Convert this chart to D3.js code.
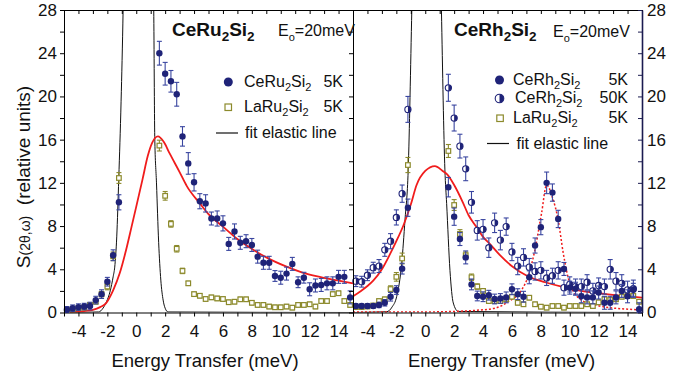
<!DOCTYPE html>
<html>
<head>
<script src="https://d3js.org/d3.v7.min.js"></script>
<style>
  body { margin: 0; background: #fff; }
  svg text { font-family: "Liberation Sans", Arial, sans-serif; fill: #111; }
</style>
</head>
<body>
<svg width="682" height="377"></svg>
<script>
// ---------- data ----------
const xTickLabels = [-4, -2, 0, 2, 4, 6, 8, 10, 12, 14];
const yTickLabels = [0, 4, 8, 12, 16, 20, 24, 28];

// energy grid of the measured points (meV)
const gridE = [-4.8, -4.4, -4.0, -3.6, -3.2, -2.8, -2.4, -2.0, -1.6, -1.2,
  1.6, 2.0, 2.4, 2.8, 3.2, 3.6, 4.0, 4.4, 4.8, 5.2, 5.6, 6.0, 6.4, 6.8, 7.2, 7.6,
  8.0, 8.4, 8.8, 9.2, 9.6, 10.0, 10.4, 10.8, 11.2, 11.6, 12.0, 12.4, 12.8, 13.2,
  13.6, 14.0, 14.4, 14.8];

// left panel: CeRu2Si2
const ceRuS = [0.25, 0.4, 0.5, 0.55, 0.6, 1.15, 1.7, 2.85, 5.3, 10.2,
  24.0, 22.1, 21.4, 20.2, 16.3, 13.8, 12.05, 10.3, 10.1, 8.7,
  8.7, 8.25, 6.35, 7.5, 6.45, 6.6, 6.25, 5.17, 4.6, 4.6,
  3.38, 3.22, 3.6, 4.5, 2.8, 3.22, 2.15, 2.5, 2.55, 2.7,
  2.7, 3.3, 3.3, 1.4];
const ceRuErr = [0.3, 0.3, 0.3, 0.3, 0.35, 0.35, 0.4, 0.4, 0.5, 0.7,
  1.1, 1.05, 1.0, 1.1, 0.9, 1.0, 0.8, 0.7, 0.8, 0.6,
  0.7, 0.7, 0.6, 0.7, 0.6, 0.6, 0.6, 0.6, 0.6, 0.6,
  0.5, 0.6, 0.6, 0.6, 0.5, 0.5, 0.6, 0.6, 0.6, 0.6,
  0.6, 0.6, 0.6, 0.6];
const laRuS = [0.23, 0.3, 0.4, 0.45, 0.7, 1.0, 1.7, 2.4, 5.2, 12.45,
  15.45, 10.8, 8.2, 5.9, 3.85, 2.7, 1.7, 1.55, 1.25, 1.4,
  1.3, 1.25, 0.95, 1.0, 1.22, 1.22, 0.9, 0.7, 0.7, 0.55,
  0.48, 0.48, 0.55, 0.45, 0.7, 0.7, 0.76, 0.55, 1.06, 1.06,
  1.7, 1.78, 1.06, 0.7];
const laRuErr = [0.15, 0.15, 0.15, 0.15, 0.2, 0.2, 0.25, 0.3, 0.4, 0.5,
  0.5, 0.4, 0.3, 0.3, 0.25, 0.2, 0.2, 0.2, 0.2, 0.2,
  0.2, 0.2, 0.2, 0.2, 0.2, 0.2, 0.2, 0.2, 0.2, 0.2,
  0.2, 0.2, 0.2, 0.2, 0.2, 0.2, 0.2, 0.2, 0.2, 0.2,
  0.2, 0.2, 0.2, 0.2];
const ruFitE = [-5, -4, -3.5, -3, -2.5, -2.1, -1.6, -1.14, -0.7, -0.33, 0, 0.43, 0.8, 1.1, 1.5,
  1.9, 2.32, 3.0, 3.5, 4.4, 5.0, 6.0, 7.0, 8.1, 9.0, 10.4, 11.5, 12.7, 14.0, 15.0];
const ruFitS = [0.02, 0.08, 0.15, 0.25, 0.5, 0.85, 2.05, 3.65, 5.8, 7.9, 9.8, 12.3, 14.5, 15.7, 16.3,
  15.8, 14.7, 13.0, 11.7, 10.1, 9.1, 7.95, 6.8, 5.8, 5.1, 4.24, 3.7, 3.3, 2.95, 2.7];
const ruElE = [-5, -2.6, -2.3, -2.06, -1.8, -1.6, -1.49, -1.35, -1.21, -1.05, -0.91, -0.85,
  1.15, 1.21, 1.28, 1.4, 1.55, 1.7, 1.86, 2.0, 2.2, 15];
const ruElS = [0, 0.05, 0.4, 1.0, 2.0, 3.3, 4.2, 7.0, 12.4, 19.5, 28, 33,
  33, 28, 16.3, 12.0, 6.5, 3.0, 1.15, 0.4, 0.05, 0];

// right panel: CeRh2Si2
const ceRh5S = [0.6, 0.6, 0.6, 0.6, 0.7, 0.9, 1.46, 2.08, 4.06, 9.7,
  11.6, 8.87, 6.8, 5.1, 2.6, 1.53, 1.46, 1.6, 1.25, 1.3,
  1.4, 2.15, 1.7, 1.46, 3.26, 6.2, 7.9, 12.0, 11.1, 8.66,
  4.03, 2.3, 2.2, 1.5, 1.4, 1.4, 1.85, 0.9, 0.9, 1.4,
  2.0, 1.5, 2.1, 0.3];
const ceRh5Err = [0.2, 0.2, 0.2, 0.2, 0.25, 0.3, 0.4, 0.4, 0.5, 0.8,
  0.9, 0.8, 0.6, 0.6, 0.5, 0.45, 0.45, 0.45, 0.45, 0.45,
  0.5, 0.5, 0.5, 0.5, 0.6, 0.7, 0.7, 1.0, 0.8, 0.8,
  0.6, 0.6, 0.6, 0.6, 0.6, 0.6, 0.6, 0.6, 0.6, 0.6,
  0.6, 0.6, 0.6, 0.6];
const ceRh50S = [2.9, 2.85, 3.45, 4.15, 4.3, 5.8, 6.6, 8.8, 11.0, 18.8,
  20.8, 18.0, 15.4, 13.3, 10.2, 7.6, 7.7, 6.0, 8.3, 6.7,
  7.95, 5.6, 4.3, 5.1, 4.2, 3.8, 3.9, 3.2, 3.4, 3.9,
  2.3, 2.6, 2.4, 2.4, 2.8, 2.0, 2.5, 2.4, 4.0, 2.9,
  2.7, 2.1, 2.2];
const ceRh50Err = [0.5, 0.5, 0.5, 0.5, 0.6, 0.6, 0.7, 0.7, 0.8, 1.2,
  1.25, 1.2, 1.1, 1.1, 1.0, 0.9, 0.9, 0.9, 0.9, 0.9,
  0.8, 0.8, 0.8, 0.8, 0.8, 0.8, 0.8, 0.7, 0.7, 0.8,
  0.7, 0.7, 0.7, 0.7, 0.7, 0.7, 0.7, 0.7, 0.9, 0.8,
  0.8, 0.8, 0.8];
const laRhS = [0.5, 0.5, 0.55, 0.65, 1.06, 1.22, 2.17, 3.3, 5.0, 13.65,
  14.95, 9.95, 7.27, 5.3, 3.26, 2.4, 2.0, 1.06, 1.06, 1.06,
  1.22, 1.46, 0.9, 0.76, 1.37, 0.76, 0.54, 0.45, 0.6, 0.6,
  0.45, 0.6, 0.6, 0.6, 0.76, 0.6, 0.94, 1.22, 1.16, 1.22,
  1.46, 1.53, 1.53, 1.0];
const laRhErr = [0.15, 0.15, 0.15, 0.15, 0.2, 0.2, 0.3, 0.4, 0.5, 0.7,
  0.6, 0.5, 0.4, 0.3, 0.3, 0.25, 0.2, 0.2, 0.2, 0.2,
  0.2, 0.2, 0.2, 0.2, 0.2, 0.2, 0.2, 0.2, 0.2, 0.2,
  0.2, 0.2, 0.2, 0.2, 0.2, 0.2, 0.2, 0.2, 0.2, 0.2,
  0.2, 0.2, 0.2, 0.2];
const rhFitE = [-5, -4.5, -4, -3.6, -3, -2.44, -2, -1.5, -1.0, -0.6, 0, 0.67, 1.2, 1.5, 2.0,
  2.6, 3.0, 3.5, 4.0, 4.5, 5.17, 5.98, 7.13, 8.3, 9.44, 10.6, 11.74, 13.3, 15];
const rhFitS = [1.5, 1.95, 2.45, 2.95, 4.0, 5.4, 6.6, 8.1, 10.0, 11.8, 13.1, 13.55, 13.1, 12.8, 11.8,
  10.2, 9.0, 8.0, 7.0, 6.3, 5.3, 4.3, 3.33, 2.8, 2.39, 2.05, 1.83, 1.58, 1.37];
const rhCefE = [-5, 0, 2, 3.5, 4.82, 5.74, 6.67, 7.13, 7.59, 8.05, 8.4, 8.79, 9.2, 9.55,
  10.0, 10.8, 11.74, 14.05, 15];
const rhCefS = [0.05, 0.05, 0.1, 0.2, 0.4, 1.0, 2.08, 3.38, 5.8, 9.2, 11.8, 10.7, 8.56, 5.5,
  2.7, 1.16, 0.7, 0.3, 0.25];
const rhElE = [-5, -2.67, -2.3, -1.98, -1.63, -1.4, -1.18, -0.93, -0.85,
  1.05, 1.12, 1.36, 1.48, 1.71, 1.94, 2.28, 15];
const rhElS = [0, 0.07, 0.5, 1.46, 4.55, 8.6, 13.2, 28, 33,
  33, 28, 13.2, 10.1, 3.9, 0.88, 0.1, 0];

// ---------- drawing ----------
const navy = "#1f2378", navyBar = "#3a46a0", olive = "#8c8a2c", red = "#f01c1c";
const svg = d3.select("svg");
const yTop = 10, yBot = 312.5;
const y = d3.scaleLinear().domain([0, 28]).range([yBot, yTop]);
const xL = d3.scaleLinear().domain([-5, 15]).range([64, 353]);
const xR = d3.scaleLinear().domain([-5, 15]).range([353, 642]);
const xTicks = d3.range(-5, 16);
const yTicks = d3.range(0, 29, 2);

function zip(e, s, err) {
  return e.map((v, i) => ({ e: v, s: s[i], err: err ? err[i] : 0 })).filter(d => d.s !== undefined);
}

function rich(g, x, yy, parts, size, weight, anchor) {
  const t = g.append("text").attr("x", x).attr("y", yy)
    .attr("font-size", size).attr("font-weight", weight || "normal")
    .attr("text-anchor", anchor || "start");
  parts.forEach(p => {
    const s = t.append("tspan").text(p[0]);
    if (p[1]) s.attr("font-size", p[1]);
    if (p[2]) s.attr("dy", p[2]);
  });
  return t;
}

function styleAxis(g, color) {
  g.select(".domain").attr("stroke", color || "#000");
  g.selectAll(".tick line").attr("stroke", color || "#000");
  g.selectAll(".tick text").attr("font-size", 17).style("fill", "#111");
}

function drawPanel(x, id) {
  const g = svg.append("g");
  svg.append("clipPath").attr("id", id).append("rect")
    .attr("x", x.range()[0]).attr("y", yTop)
    .attr("width", x.range()[1] - x.range()[0]).attr("height", yBot - yTop);
  const plot = g.append("g").attr("clip-path", `url(#${id})`);

  // bottom axis with labels, top axis inward ticks
  g.append("g").attr("transform", `translate(0,${yBot})`)
    .call(d3.axisBottom(x).tickValues(xTicks).tickSize(4).tickSizeOuter(0).tickPadding(8)
      .tickFormat(d => xTickLabels.includes(d) ? String(d) : ""))
    .call(a => styleAxis(a));
  g.append("g").attr("transform", `translate(0,${yTop})`)
    .call(d3.axisTop(x).tickValues(xTicks).tickSize(-4).tickSizeOuter(0).tickFormat(""))
    .call(a => styleAxis(a));
  return { g, plot };
}

const L = drawPanel(xL, "clipL");
const R = drawPanel(xR, "clipR");

// y axes
svg.append("g").attr("transform", "translate(64,0)")
  .call(d3.axisLeft(y).tickValues(yTicks).tickSize(4).tickSizeOuter(0).tickPadding(3)
    .tickFormat(d => yTickLabels.includes(d) ? String(d) : ""))
  .call(a => styleAxis(a));
svg.append("g").attr("transform", "translate(353,0)")
  .call(d3.axisLeft(y).tickValues(yTicks).tickSize(4).tickSizeOuter(0).tickFormat(""))
  .call(a => styleAxis(a));
svg.append("g").attr("transform", "translate(642,0)")
  .call(d3.axisRight(y).tickValues(yTicks).tickSize(-4).tickSizeOuter(0).tickPadding(5)
    .tickFormat(d => yTickLabels.includes(d) ? String(d) : ""))
  .call(a => { styleAxis(a, "#1b1b50"); a.select(".domain").attr("stroke-width", 1.6); });

function curve(plot, x, e, s, color, width, dash) {
  const line = d3.line().x(d => x(d[0])).y(d => y(d[1])).curve(d3.curveMonotoneX);
  plot.append("path").datum(e.map((v, i) => [v, s[i]]))
    .attr("d", line).attr("fill", "none").attr("stroke", color)
    .attr("stroke-width", width).attr("stroke-dasharray", dash || null);
}

function errorBars(g, x, data, color) {
  const eb = g.append("g").attr("stroke", color).attr("stroke-width", 1.1);
  data.forEach(d => {
    const cx = x(d.e), y1 = y(d.s + d.err), y2 = y(Math.max(0, d.s - d.err));
    eb.append("line").attr("x1", cx).attr("x2", cx).attr("y1", y1).attr("y2", y2);
    eb.append("line").attr("x1", cx - 2.5).attr("x2", cx + 2.5).attr("y1", y1).attr("y2", y1);
    eb.append("line").attr("x1", cx - 2.5).attr("x2", cx + 2.5).attr("y1", y2).attr("y2", y2);
  });
}

function squares(g, x, data) {
  errorBars(g, x, data, olive);
  g.append("g").selectAll("rect").data(data).join("rect")
    .attr("x", d => x(d.e) - 2.3).attr("y", d => y(d.s) - 2.3)
    .attr("width", 4.6).attr("height", 4.6)
    .attr("fill", "#fff").attr("stroke", olive).attr("stroke-width", 1.2);
}

function dots(g, x, data) {
  errorBars(g, x, data, navyBar);
  g.append("g").selectAll("circle").data(data).join("circle")
    .attr("cx", d => x(d.e)).attr("cy", d => y(d.s)).attr("r", 3.2)
    .attr("fill", navy);
}

function halfDot(g, cx, cy, r) {
  g.append("circle").attr("cx", cx).attr("cy", cy).attr("r", r)
    .attr("fill", "#fff").attr("stroke", navy).attr("stroke-width", 1.1);
  g.append("path").attr("d", `M${cx},${cy - r}A${r},${r} 0 0 1 ${cx},${cy + r}Z`).attr("fill", navy);
}

function halfDots(g, x, data) {
  errorBars(g, x, data, navyBar);
  const hg = g.append("g");
  data.forEach(d => halfDot(hg, x(d.e), y(d.s), 3.1));
}

// left panel marks
curve(L.plot, xL, ruElE, ruElS, "#111", 1);
squares(L.g, xL, zip(gridE, laRuS, laRuErr));
dots(L.g, xL, zip(gridE, ceRuS, ceRuErr));
curve(L.plot, xL, ruFitE, ruFitS, red, 1.8);

// right panel marks
curve(R.plot, xR, rhElE, rhElS, "#111", 1);
curve(R.plot, xR, rhCefE, rhCefS, red, 1.5, "2,2");
squares(R.g, xR, zip(gridE, laRhS, laRhErr));
halfDots(R.g, xR, zip(gridE, ceRh50S, ceRh50Err));
dots(R.g, xR, zip(gridE, ceRh5S, ceRh5Err));
curve(R.plot, xR, rhFitE, rhFitS, red, 1.8);

// titles
rich(svg, 172, 36, [["CeRu"], ["2", 13.5, 5], ["Si", null, -5], ["2", 13.5, 5]], 19, "bold");
rich(svg, 278, 36, [["E"], ["o", 11, 5], ["=20meV", null, -5]], 16);
rich(svg, 454, 36, [["CeRh"], ["2", 13.5, 5], ["Si", null, -5], ["2", 13.5, 5]], 19, "bold");
rich(svg, 553, 37, [["E"], ["o", 11, 5], ["=20meV", null, -5]], 16);

// legends
const lg = svg.append("g");
lg.append("circle").attr("cx", 228.3).attr("cy", 82).attr("r", 4.5).attr("fill", navy);
rich(lg, 244, 87, [["CeRu"], ["2", 11, 4], ["Si", null, -4], ["2", 11, 4]], 16);
rich(lg, 343, 87, [["5K"]], 16, "normal", "end");
lg.append("rect").attr("x", 225).attr("y", 104).attr("width", 6.5).attr("height", 6.5)
  .attr("fill", "#fff").attr("stroke", olive).attr("stroke-width", 1.2);
rich(lg, 244, 112, [["LaRu"], ["2", 11, 4], ["Si", null, -4], ["2", 11, 4]], 16);
rich(lg, 343, 112, [["5K"]], 16, "normal", "end");
lg.append("line").attr("x1", 216).attr("x2", 238).attr("y1", 133).attr("y2", 133)
  .attr("stroke", "#111").attr("stroke-width", 1.2);
rich(lg, 245, 138, [["fit elastic line"]], 16);

lg.append("circle").attr("cx", 499.5).attr("cy", 80).attr("r", 4.5).attr("fill", navy);
rich(lg, 513, 85, [["CeRh"], ["2", 11, 4], ["Si", null, -4], ["2", 11, 4]], 16);
rich(lg, 628, 85, [["5K"]], 16, "normal", "end");
halfDot(lg, 499.5, 98.5, 4.3);
rich(lg, 515, 103, [["CeRh"], ["2", 11, 4], ["Si", null, -4], ["2", 11, 4]], 16);
rich(lg, 628, 103, [["50K"]], 16, "normal", "end");
lg.append("rect").attr("x", 496.8).attr("y", 115).attr("width", 6.5).attr("height", 6.5)
  .attr("fill", "#fff").attr("stroke", olive).attr("stroke-width", 1.2);
rich(lg, 513, 123, [["LaRu"], ["2", 11, 4], ["Si", null, -4], ["2", 11, 4]], 16);
rich(lg, 628, 123, [["5K"]], 16, "normal", "end");
lg.append("line").attr("x1", 487).attr("x2", 509).attr("y1", 143.5).attr("y2", 143.5)
  .attr("stroke", "#111").attr("stroke-width", 1.2);
rich(lg, 516.5, 149, [["fit elastic line"]], 16);

// axis titles
rich(svg, 205, 367, [["Energy Transfer (meV)"]], 18.5, "normal", "middle");
rich(svg, 501.5, 367, [["Energy Transfer (meV)"]], 18.5, "normal", "middle");
rich(svg.append("g").attr("transform", "translate(30,177) rotate(-90)"), 0, 0,
  [["S"], ["(2\u03b8,\u03c9)", 14], ["\u00a0\u00a0(relative units)"]], 19, "normal", "middle");
</script>
</body>
</html>
